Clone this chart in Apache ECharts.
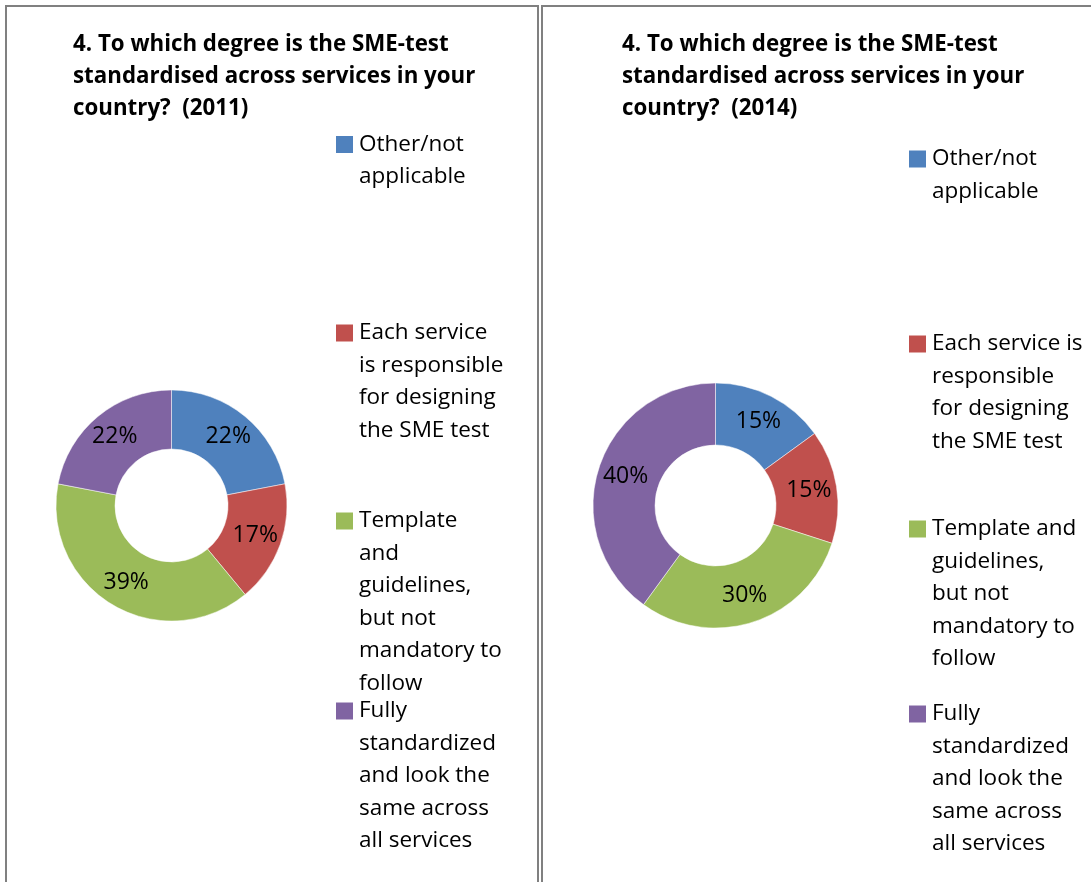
<!DOCTYPE html>
<html>
<head>
<meta charset="utf-8">
<script src="https://cdn.jsdelivr.net/npm/echarts@6/dist/echarts.min.js"></script>
<style>
  html, body { margin: 0; padding: 0; background: #fff; }
  #chart { width: 1091px; height: 882px; }
</style>
</head>
<body>
<div id="chart"></div>
<script>
// data
var categories = ['Other/not applicable', 'Each service is responsible for designing the SME test',
  'Template and guidelines, but not mandatory to follow', 'Fully standardized and look the same across all services'];
var values2011 = [22, 17, 39, 22];
var values2014 = [15, 15, 30, 40];
var colors = ['#4F81BD', '#C0504D', '#9BBB59', '#8064A2'];
var titleText = '4. To which degree is the SME-test\nstandardised across services in your\ncountry?  (2011)';
var titleText2 = '4. To which degree is the SME-test\nstandardised across services in your\ncountry?  (2014)';
// legend wrapping, one array per panel
var legendLines2011 = [
  ['Other/not', 'applicable'],
  ['Each service', 'is responsible', 'for designing', 'the SME test'],
  ['Template', 'and', 'guidelines,', 'but not', 'mandatory to', 'follow'],
  ['Fully', 'standardized', 'and look the', 'same across', 'all services']
];
var legendLines2014 = [
  ['Other/not', 'applicable'],
  ['Each service is', 'responsible', 'for designing', 'the SME test'],
  ['Template and', 'guidelines,', 'but not', 'mandatory to', 'follow'],
  ['Fully', 'standardized', 'and look the', 'same across', 'all services']
];
var legendY2011 = [144.5, 333, 521, 711];
var legendY2014 = [159, 344, 529, 714];

var FONT = 'Open Sans';
var LH = 32.5;

function makeLegends(lines, ys, left) {
  var out = [];
  for (var i = 0; i < categories.length; i++) {
    var n = lines[i].length;
    // blank lines above so the first line sits next to the icon
    var txt = '';
    for (var k = 1; k < n; k++) txt += ' \n';
    txt += lines[i].join('\n');
    out.push({
      data: [categories[i]],
      orient: 'vertical',
      left: left,
      top: ys[i] - (2 * n - 1) * LH / 2,
      padding: 0,
      itemWidth: 19,
      itemHeight: 19,
      icon: 'rect',
      selectedMode: false,
      formatter: (function (t) { return function () { return t; }; })(txt),
      textStyle: {
        fontFamily: FONT,
        fontSize: 22.5,
        color: '#000',
        lineHeight: LH
      }
    });
  }
  return out;
}

function pieData(vals) {
  return categories.map(function (c, i) {
    return { name: c, value: vals[i], itemStyle: { color: colors[i] } };
  });
}

function pieSeries(vals, center, radius) {
  return {
    type: 'pie',
    center: center,
    radius: radius,
    startAngle: 90,
    clockwise: true,
    silent: true,
    data: pieData(vals),
    itemStyle: { borderColor: '#fff', borderWidth: 0.5 },
    label: {
      position: 'inside',
      formatter: '{c}%',
      fontFamily: FONT,
      fontSize: 23,
      color: '#000'
    },
    labelLine: { show: false }
  };
}

var chart = echarts.init(document.getElementById('chart'));
var option = {
  backgroundColor: '#fff',
  animation: false,
  title: [
    {
      text: titleText, left: 73, top: 29, padding: 0,
      textStyle: { fontFamily: FONT, fontWeight: 'bold', fontSize: 22.3, lineHeight: 32, color: '#000' }
    },
    {
      text: titleText2, left: 622, top: 29, padding: 0,
      textStyle: { fontFamily: FONT, fontWeight: 'bold', fontSize: 22.3, lineHeight: 32, color: '#000' }
    }
  ],
  legend: makeLegends(legendLines2011, legendY2011, 334).concat(makeLegends(legendLines2014, legendY2014, 907)),
  graphic: [
    { type: 'polyline', shape: { points: [[6, 890], [6, 6], [538, 6], [538, 890]] },
      style: { stroke: '#808080', lineWidth: 2, fill: null }, silent: true },
    { type: 'polyline', shape: { points: [[542, 890], [542, 6], [1100, 6]] },
      style: { stroke: '#808080', lineWidth: 2, fill: null }, silent: true }
  ],
  series: [
    pieSeries(values2011, [171.5, 505.5], [56.5, 115.5]),
    pieSeries(values2014, [715.5, 505.5], [60.5, 122.5])
  ]
};
chart.setOption(option);
</script>
</body>
</html>
